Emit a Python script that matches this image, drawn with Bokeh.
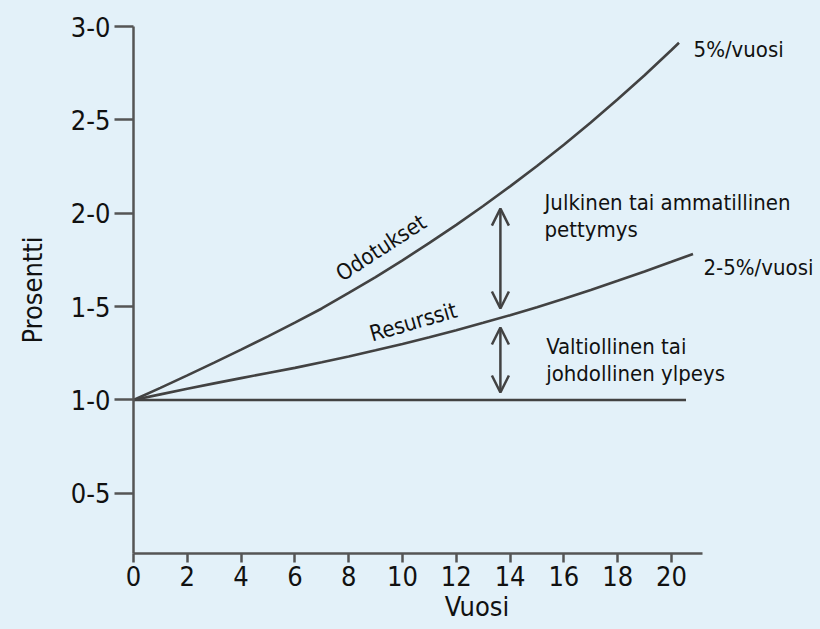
from bokeh.plotting import figure
from bokeh.models import Range1d, FixedTicker, Label, Arrow, OpenHead
from bokeh.embed import file_html
from bokeh.resources import INLINE
import math

# ---- data ----
expect_years = [0, 1, 2, 3, 4, 5, 6, 7, 8, 9, 10, 11, 12, 13, 14, 15, 16, 17, 18, 19, 20, 20.28]
expect_vals = [1.0, 1.065, 1.132, 1.200, 1.270, 1.341, 1.414, 1.490, 1.573, 1.658, 1.748,
               1.841, 1.938, 2.039, 2.144, 2.253, 2.367, 2.486, 2.610, 2.739, 2.874, 2.913]

resource_years = [0, 1, 2, 3, 4, 5, 6, 7, 8, 9, 10, 11, 12, 13, 14, 15, 16, 17, 18, 19, 20, 20.8]
resource_vals = [1.0, 1.030, 1.060, 1.089, 1.117, 1.145, 1.172, 1.202, 1.233, 1.266, 1.300,
                 1.336, 1.374, 1.413, 1.454, 1.497, 1.542, 1.589, 1.638, 1.688, 1.740, 1.782]

base_years = [0, 20.54]
base_vals = [1.0, 1.0]

x_ticks = [0, 2, 4, 6, 8, 10, 12, 14, 16, 18, 20]
y_ticks = [0.5, 1.0, 1.5, 2.0, 2.5, 3.0]
y_tick_labels = ["0-5", "1-0", "1-5", "2-0", "2-5", "3-0"]

x_title = "Vuosi"
y_title = "Prosentti"

# annotations: (text, x, y, angle_deg, align, baseline)
annotations = [
    ("5%/vuosi", 20.82, 2.875, 0, "left", "alphabetic"),
    ("2-5%/vuosi", 21.19, 1.709, 0, "left", "alphabetic"),
    ("Julkinen tai ammatillinen", 15.28, 2.058, 0, "left", "alphabetic"),
    ("pettymys", 15.28, 1.913, 0, "left", "alphabetic"),
    ("Valtiollinen tai", 15.34, 1.288, 0, "left", "alphabetic"),
    ("johdollinen ylpeys", 15.34, 1.140, 0, "left", "alphabetic"),
    ("Odotukset", 9.20, 1.815, 33, "center", "middle"),
    ("Resurssit", 10.40, 1.418, 16, "center", "middle"),
]

# double-headed arrows: (x, y_top, y_bottom)
arrows = [
    (13.64, 2.025, 1.490),
    (13.64, 1.388, 1.040),
]

BG = "#e3f1f9"
INK = "#111111"
LINE = "#424242"
AXIS = "#555555"
FONT = "DejaVu Sans Condensed"

p = figure(width=820, height=629, output_backend="svg", toolbar_location=None,
           x_range=Range1d(0, 25.54), y_range=Range1d(0.178, 3.0),
           min_border_left=133, min_border_right=0, min_border_top=26, min_border_bottom=76)
p.background_fill_color = BG
p.border_fill_color = BG
p.outline_line_color = None
p.grid.visible = False

for ax in (p.xaxis[0], p.yaxis[0]):
    ax.axis_line_color = AXIS
    ax.axis_line_width = 2.5
    ax.major_tick_line_color = AXIS
    ax.major_tick_line_width = 2.5
    ax.major_tick_in = 0
    ax.minor_tick_line_color = None
    ax.major_label_text_font = FONT
    ax.major_label_text_font_size = "27px"
    ax.major_label_text_color = INK
    ax.axis_label_text_font = FONT
    ax.axis_label_text_font_size = "27px"
    ax.axis_label_text_font_style = "normal"
    ax.axis_label_text_color = INK

p.xaxis.bounds = (0, 21.17)
p.xaxis.ticker = FixedTicker(ticks=x_ticks)
p.xaxis.major_tick_out = 9
p.xaxis.major_label_standoff = 3
p.xaxis.axis_label = x_title
p.xaxis.axis_label_standoff = 2

p.yaxis.ticker = FixedTicker(ticks=y_ticks)
p.yaxis.major_label_overrides = {t: l for t, l in zip(y_ticks, y_tick_labels)}
p.yaxis.major_tick_out = 19
p.yaxis.major_label_standoff = 4
p.yaxis.axis_label = y_title
p.yaxis.axis_label_standoff = 20

p.line(expect_years, expect_vals, line_color=LINE, line_width=2.6)
p.line(resource_years, resource_vals, line_color=LINE, line_width=2.6)
p.line(base_years, base_vals, line_color=LINE, line_width=2.6)

for txt, x, y, ang, al, bl in annotations:
    p.add_layout(Label(x=x, y=y, text=txt, angle=math.radians(ang), text_align=al,
                       text_baseline=bl, text_font=FONT, text_font_size="22px",
                       text_color=INK))

for x, y0, y1 in arrows:
    p.add_layout(Arrow(x_start=x, y_start=y0, x_end=x, y_end=y1,
                       line_color=LINE, line_width=2.5,
                       start=OpenHead(size=17, line_color=LINE, line_width=2.5),
                       end=OpenHead(size=17, line_color=LINE, line_width=2.5)))

html = file_html(p, INLINE)
html = html.replace("</head>", "<style>html,body{background:%s;}</style></head>" % BG, 1)
open("out.html", "w").write(html)
